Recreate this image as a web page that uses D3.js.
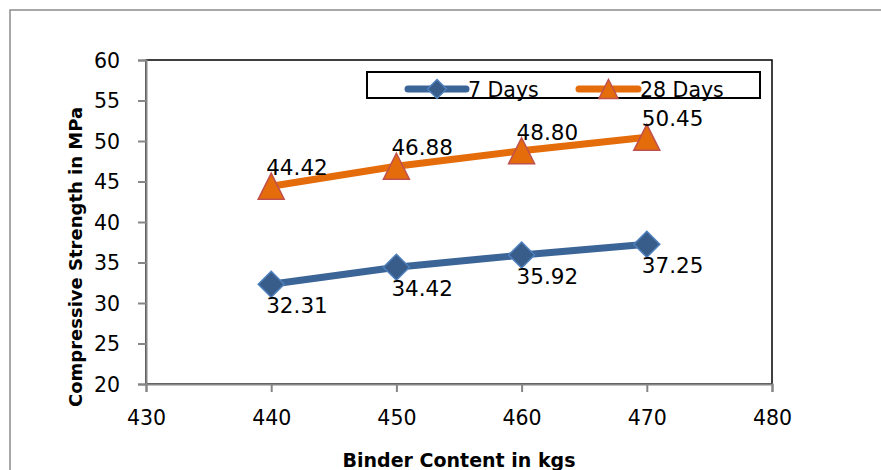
<!DOCTYPE html>
<html>
<head>
<meta charset="utf-8">
<script src="https://cdn.jsdelivr.net/npm/d3@7/dist/d3.min.js"></script>
<style>
  html, body { margin: 0; padding: 0; background: #fff; }
  svg { display: block; }
  text { font-family: "DejaVu Sans", sans-serif; fill: #000; }
</style>
</head>
<body>
<svg id="chart" width="881" height="470"></svg>
<script>
// Binder content (kg) on the x axis
const binder = [440, 450, 460, 470];
// Compressive strength (MPa) per curing age
const days7 = [32.31, 34.42, 35.92, 37.25];
const days28 = [44.42, 46.88, 48.80, 50.45];
const seriesNames = ["7 Days", "28 Days"];
const xTicks = [430, 440, 450, 460, 470, 480];
const yTicks = [20, 25, 30, 35, 40, 45, 50, 55, 60];

const svg = d3.select("#chart");
const W = 881, H = 470;
const plot = { left: 146, right: 772, top: 60, bottom: 384 };

const x = d3.scaleLinear().domain([430, 480]).range([plot.left, plot.right]);
const y = d3.scaleLinear().domain([20, 60]).range([plot.bottom, plot.top]);

const axisGray = "#868686";
const blue = "#3b6497", blueEdge = "#4f81bd", blueFill = "#385d8a";
const orange = "#e46c0a", orangeEdge = "#c0504d";

// chart frame
svg.append("path")
  .attr("d", `M10,${H + 5} L10,10 L${W + 5},10`)
  .attr("fill", "none").attr("stroke", "#8c8c8c").attr("stroke-width", 1.5);

// plot area border
svg.append("rect")
  .attr("x", plot.left).attr("y", plot.top)
  .attr("width", plot.right - plot.left).attr("height", plot.bottom - plot.top)
  .attr("fill", "none").attr("stroke", "#000").attr("stroke-width", 1.5);

// y axis
const yAxis = svg.append("g")
  .attr("transform", `translate(${plot.left},0)`)
  .call(d3.axisLeft(y).tickValues(yTicks).tickSize(8).tickPadding(18).tickFormat(d3.format("d")));
// x axis
const xAxis = svg.append("g")
  .attr("transform", `translate(0,${plot.bottom})`)
  .call(d3.axisBottom(x).tickValues(xTicks).tickSize(8).tickPadding(18).tickFormat(d3.format("d")));

[yAxis, xAxis].forEach(g => {
  g.select(".domain").attr("stroke", axisGray).attr("stroke-width", 2);
  g.selectAll(".tick line").attr("stroke", axisGray).attr("stroke-width", 2);
  g.selectAll(".tick text")
    .attr("font-family", "DejaVu Sans, sans-serif")
    .attr("font-size", 20.5).attr("fill", "#000");
});
yAxis.selectAll(".tick text").attr("dy", "0.36em");
xAxis.selectAll(".tick text").attr("dy", "0.71em");

// axis titles
svg.append("text")
  .attr("transform", `translate(82,257) rotate(-90)`)
  .attr("text-anchor", "middle")
  .attr("font-weight", "bold").attr("font-size", 18)
  .text("Compressive Strength in MPa");
svg.append("text")
  .attr("x", 459).attr("y", 467)
  .attr("text-anchor", "middle")
  .attr("font-weight", "bold").attr("font-size", 19)
  .text("Binder Content in kgs");

const diamond = r => `M0,${-r}L${r},0L0,${r}L${-r},0Z`;
const triangle = r => `M0,${-r}L${r},${r}L${-r},${r}Z`;

const series = [
  { name: seriesNames[0], values: days7, line: blue, fill: blueFill, edge: blueEdge, shape: diamond, labelDy: 29 },
  { name: seriesNames[1], values: days28, line: orange, fill: orange, edge: orangeEdge, shape: triangle, labelDy: -11 }
];

const line = d3.line().x((d, i) => x(binder[i])).y(d => y(d));

series.forEach(s => {
  svg.append("path")
    .attr("d", line(s.values))
    .attr("fill", "none").attr("stroke", s.line)
    .attr("stroke-width", 7).attr("stroke-linejoin", "round");

  svg.selectAll(null).data(s.values).enter().append("path")
    .attr("transform", (d, i) => `translate(${x(binder[i])},${y(d)})`)
    .attr("d", s.shape(13))
    .attr("fill", s.fill).attr("stroke", s.edge).attr("stroke-width", 1.5);

  svg.selectAll(null).data(s.values).enter().append("text")
    .attr("x", (d, i) => x(binder[i]) - 5)
    .attr("y", d => y(d) + s.labelDy)
    .attr("font-size", 21.5)
    .text(d => d.toFixed(2));
});

// legend
const legend = svg.append("g");
legend.append("rect")
  .attr("x", 367).attr("y", 72).attr("width", 393).attr("height", 26)
  .attr("fill", "#fff").attr("stroke", "#000").attr("stroke-width", 2);

const legendItems = [
  { s: series[0], x0: 408, x1: 466 },
  { s: series[1], x0: 579, x1: 638 }
];
legendItems.forEach(it => {
  const cy = 89, cx = (it.x0 + it.x1) / 2;
  legend.append("line")
    .attr("x1", it.x0).attr("x2", it.x1).attr("y1", cy).attr("y2", cy)
    .attr("stroke", it.s.line).attr("stroke-width", 7).attr("stroke-linecap", "round");
  legend.append("path")
    .attr("transform", `translate(${cx},${cy})`)
    .attr("d", it.s.shape(9.5))
    .attr("fill", it.s.fill).attr("stroke", it.s.edge).attr("stroke-width", 1.5);
  legend.append("text")
    .attr("x", it.x1 + 2).attr("y", 97)
    .attr("font-size", 20.5)
    .text(it.s.name);
});
</script>
</body>
</html>
